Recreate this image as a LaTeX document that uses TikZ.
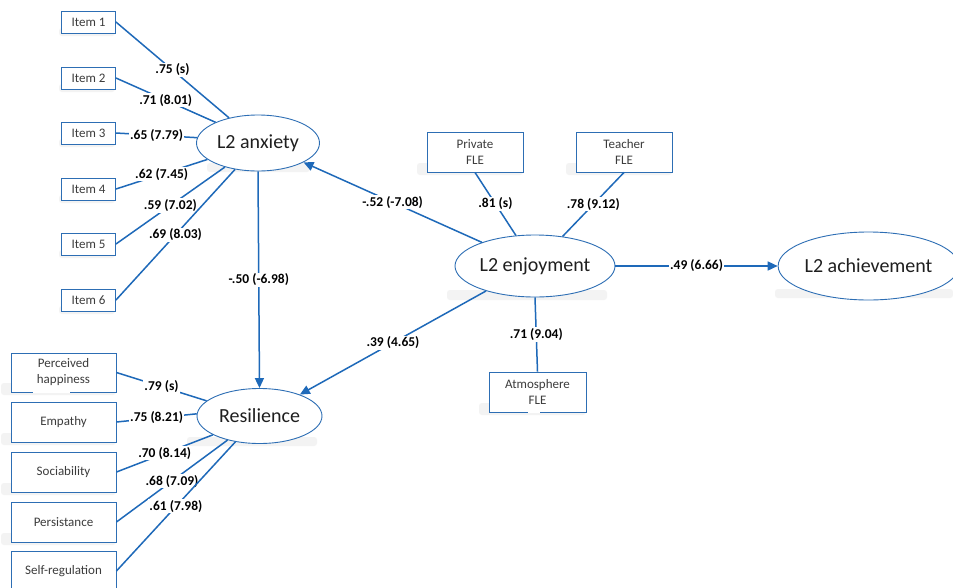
\documentclass[tikz,border=0pt]{standalone}
\usepackage{fontspec}
\setmainfont{Carlito}
\usetikzlibrary{shapes.geometric,arrows.meta}
\definecolor{lnblue}{RGB}{30,105,185}
\definecolor{bxblue}{RGB}{45,110,180}
\definecolor{bxtext}{RGB}{60,60,60}
\definecolor{shade}{RGB}{243,243,243}
\begin{document}
\begin{tikzpicture}[x=1pt,y=-1pt,
  box/.style={draw=bxblue,line width=0.9pt,fill=white,rectangle,inner sep=0pt,text=bxtext,font=\fontsize{13}{16}\selectfont,align=center},
  lat/.style={draw=bxblue,line width=0.9pt,fill=white,ellipse,inner sep=0pt,text=black!88,font=\fontsize{20}{24}\selectfont},
  conn/.style={draw=lnblue,line width=1.5pt},
  arr/.style={conn,-{Triangle[length=10pt,width=9pt]}},
  lab/.style={fill=white,inner sep=1pt,text=black,font=\bfseries\fontsize{13.5}{15}\selectfont,midway},
  shd/.style={fill=shade,rounded corners=3pt}
]
\clip (0,0) rectangle (953,587);
\fill[white] (0,0) rectangle (953,587);

% soft shadows
\fill[shd] (447,290) rectangle (607,300);
\fill[shd] (775,289) rectangle (953,298);
\fill[shd] (207,163) rectangle (310,172);
\fill[shd] (187,437) rectangle (317,446);
\foreach \xa/\ya/\xb/\yb in {62/11/115/33,62/67/115/89,62/122/115/144,62/178/115/200,62/233/115/255,62/289/115/311}
  {\fill[shd] (\xa-3,\yb-5) rectangle (\xb,\yb+3);}
\foreach \xa/\ya/\xb/\yb in {11/353/116/392,11/402/116/442,11/452/116/492,11/502/116/542,
  427/132/523/172,576/132/672/172,489/372/586/412}
  {\fill[shd] (\xa-10,\yb-9) rectangle (\xb,\yb+3);}

% latent variables
\node[lat,minimum width=123pt,minimum height=56pt] (anx) at (258,143) {L2 anxiety};
\node[lat,minimum width=125pt,minimum height=55pt] (res) at (259.5,416) {Resilience};
\node[lat,minimum width=160pt,minimum height=62pt] (enj) at (535,266) {L2 enjoyment};
\node[lat,minimum width=173pt,minimum height=68pt] (ach) at (868.5,266) {L2 achievement};

% indicators
\node[box,minimum width=54pt,minimum height=22pt] (i1) at (88.5,22) {Item 1};
\node[box,minimum width=54pt,minimum height=22pt] (i2) at (88.5,78) {Item 2};
\node[box,minimum width=54pt,minimum height=22pt] (i3) at (88.5,133) {Item 3};
\node[box,minimum width=54pt,minimum height=22pt] (i4) at (88.5,189) {Item 4};
\node[box,minimum width=54pt,minimum height=22pt] (i5) at (88.5,244) {Item 5};
\node[box,minimum width=54pt,minimum height=22pt] (i6) at (88.5,300) {Item 6};

\node[box,minimum width=105pt,minimum height=39pt] (ph) at (63.5,372.5) {Perceived\\happiness};
\node[box,minimum width=105pt,minimum height=40pt] (emp) at (63.5,422) {Empathy};
\node[box,minimum width=105pt,minimum height=40pt] (soc) at (63.5,472) {Sociability};
\node[box,minimum width=105pt,minimum height=40pt] (per) at (63.5,522) {Persistance};
\node[box,minimum width=105pt,minimum height=40pt] (sr) at (63.5,571) {Self-regulation};

\node[box,minimum width=96pt,minimum height=40pt] (priv) at (475,152) {Private\\FLE};
\node[box,minimum width=96pt,minimum height=40pt] (teach) at (624,152) {Teacher\\FLE};
\node[box,minimum width=97pt,minimum height=40pt] (atm) at (537.5,392) {Atmosphere\\FLE};

% small breaks in box borders
\draw[white,line width=1.6pt] (33,392) -- (70,392);
\draw[white,line width=1.6pt] (528,412) -- (540,412);

% loadings of L2 anxiety
\draw[conn] (i1.east) -- (anx.139) node[lab]{.75 (s)};
\draw[conn] (i2.east) -- (anx.154) node[lab]{.71 (8.01)};
\draw[conn] (i3.east) -- (anx.175) node[lab]{.65 (7.79)};
\draw[conn] (i4.east) -- (anx.198) node[lab]{.62 (7.45)};
\draw[conn] (i5.east) -- (anx.216) node[lab]{.59 (7.02)};
\draw[conn] (i6.east) -- (anx.229) node[lab]{.69 (8.03)};

% loadings of Resilience
\draw[conn] (ph.east) -- (res.164) node[lab]{.79 (s)};
\draw[conn] (emp.east) -- (res.178) node[lab]{.75 (8.21)};
\draw[conn] (soc.east) -- (res.202) node[lab]{.70 (8.14)};
\draw[conn] (per.east) -- (res.217) node[lab]{.68 (7.09)};
\draw[conn] (sr.east) -- (res.227) node[lab]{.61 (7.98)};

% loadings of L2 enjoyment
\draw[conn] (priv.south) -- (enj.122) node[lab]{.81 (s)};
\draw[conn] (teach.south) -- (enj.47) node[lab]{.78 (9.12)};
\draw[conn] (enj.south) -- (atm.north) node[lab]{.71 (9.04)};

% structural paths
\draw[arr] (enj.156) -- (anx.337) node[lab]{-.52 (-7.08)};
\draw[arr] (enj.207) -- (res.28) node[lab]{.39 (4.65)};
\draw[arr] (anx.south) -- (res.north) node[lab]{-.50 (-6.98)};
\draw[arr] (enj.east) -- (ach.west) node[lab]{.49 (6.66)};
\end{tikzpicture}
\end{document}
